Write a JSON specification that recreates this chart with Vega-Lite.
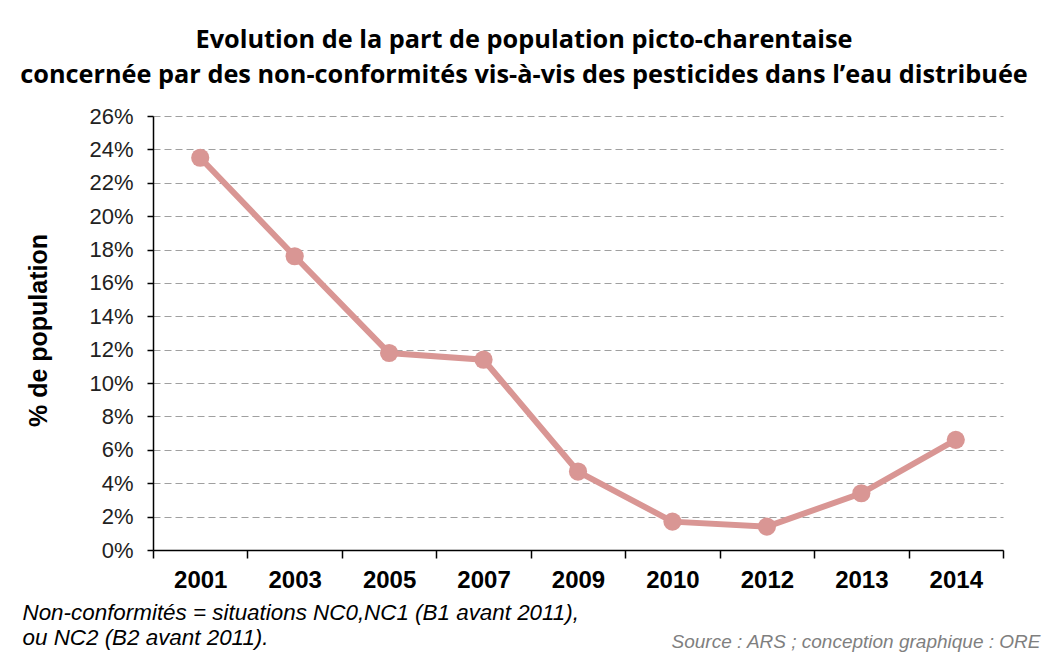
{
  "$schema": "https://vega.github.io/schema/vega-lite/v6.json",
  "width": 850,
  "height": 434,
  "autosize": {"type": "none"},
  "padding": {"left": 153, "top": 116, "right": 45, "bottom": 103},
  "background": "white",
  "title": {
    "text": ["Evolution de la part de population picto-charentaise", "concernée par des non-conformités vis-à-vis des pesticides dans l’eau distribuée"],
    "font": "Open Sans",
    "fontSize": 25.3,
    "fontWeight": "bold",
    "color": "black",
    "anchor": "middle",
    "dx": -54,
    "offset": 17,
    "lineHeight": 35
  },
  "data": {
    "values": [
      {"annee": "2001", "part": 0.235},
      {"annee": "2003", "part": 0.176},
      {"annee": "2005", "part": 0.118},
      {"annee": "2007", "part": 0.114},
      {"annee": "2009", "part": 0.047},
      {"annee": "2010", "part": 0.017},
      {"annee": "2012", "part": 0.014},
      {"annee": "2013", "part": 0.034},
      {"annee": "2014", "part": 0.066}
    ]
  },
  "encoding": {
    "x": {
      "field": "annee",
      "type": "ordinal",
      "sort": null,
      "bandPosition": 0.5,
      "scale": {"type": "band", "paddingInner": 0, "paddingOuter": 0},
      "axis": {
        "tickBand": "extent",
        "labelAngle": 0,
        "labelFont": "Liberation Sans",
        "labelFontSize": 24,
        "labelFontWeight": "bold",
        "labelColor": "black",
        "labelPadding": 10,
        "domainColor": "black",
        "domainWidth": 1.5,
        "tickColor": "black",
        "tickWidth": 1.5,
        "tickSize": 8,
        "grid": false,
        "title": ["Non-conformités = situations NC0,NC1 (B1 avant 2011),", "ou NC2 (B2 avant 2011)."],
        "titleFont": "Liberation Sans",
        "titleFontSize": 22.4,
        "titleFontStyle": "italic",
        "titleFontWeight": "normal",
        "titleColor": "black",
        "titleX": -131,
        "titleY": 69,
        "titleAlign": "left",
        "titleBaseline": "alphabetic",
        "titleLineHeight": 25
      }
    }
  },
  "layer": [
    {
      "mark": {"type": "line", "color": "#d99694", "strokeWidth": 6},
      "encoding": {
        "y": {
          "field": "part",
          "type": "quantitative",
          "scale": {"domain": [0, 0.26], "nice": false},
          "axis": {
            "values": [0, 0.02, 0.04, 0.06, 0.08, 0.1, 0.12, 0.14, 0.16, 0.18, 0.2, 0.22, 0.24, 0.26],
            "format": ".0%",
            "labelFont": "Liberation Sans",
            "labelFontSize": 22,
            "labelColor": "#222222",
            "labelPadding": 14,
            "domainColor": "black",
            "domainWidth": 1.5,
            "tickColor": "black",
            "tickWidth": 1.5,
            "tickSize": 6,
            "grid": true,
            "gridColor": "#a0a0a0",
            "gridDash": [7, 4],
            "gridWidth": 1.2,
            "title": "% de population",
            "titleFont": "Liberation Sans",
            "titleFontSize": 25,
            "titleFontWeight": "bold",
            "titleColor": "black",
            "titleAngle": 270,
            "titleX": -115,
            "titleY": 214,
            "titleAlign": "center",
            "titleBaseline": "middle"
          }
        }
      }
    },
    {
      "mark": {"type": "circle", "color": "#d99694", "opacity": 1, "size": 330},
      "encoding": {
        "y": {
          "field": "part",
          "type": "quantitative",
          "scale": {"domain": [0, 0.26], "nice": false},
          "axis": {
            "orient": "right",
            "labels": false,
            "ticks": false,
            "domain": false,
            "grid": false,
            "title": "Source : ARS ; conception graphique : ORE",
            "titleFont": "Liberation Sans",
            "titleFontSize": 19,
            "titleFontStyle": "italic",
            "titleFontWeight": "normal",
            "titleColor": "#7f7f7f",
            "titleAngle": 0,
            "titleX": 37,
            "titleY": 531,
            "titleAlign": "right",
            "titleBaseline": "alphabetic"
          }
        }
      }
    }
  ],
  "resolve": {"scale": {"y": "independent"}, "axis": {"y": "independent"}},
  "config": {"view": {"stroke": null}}
}
